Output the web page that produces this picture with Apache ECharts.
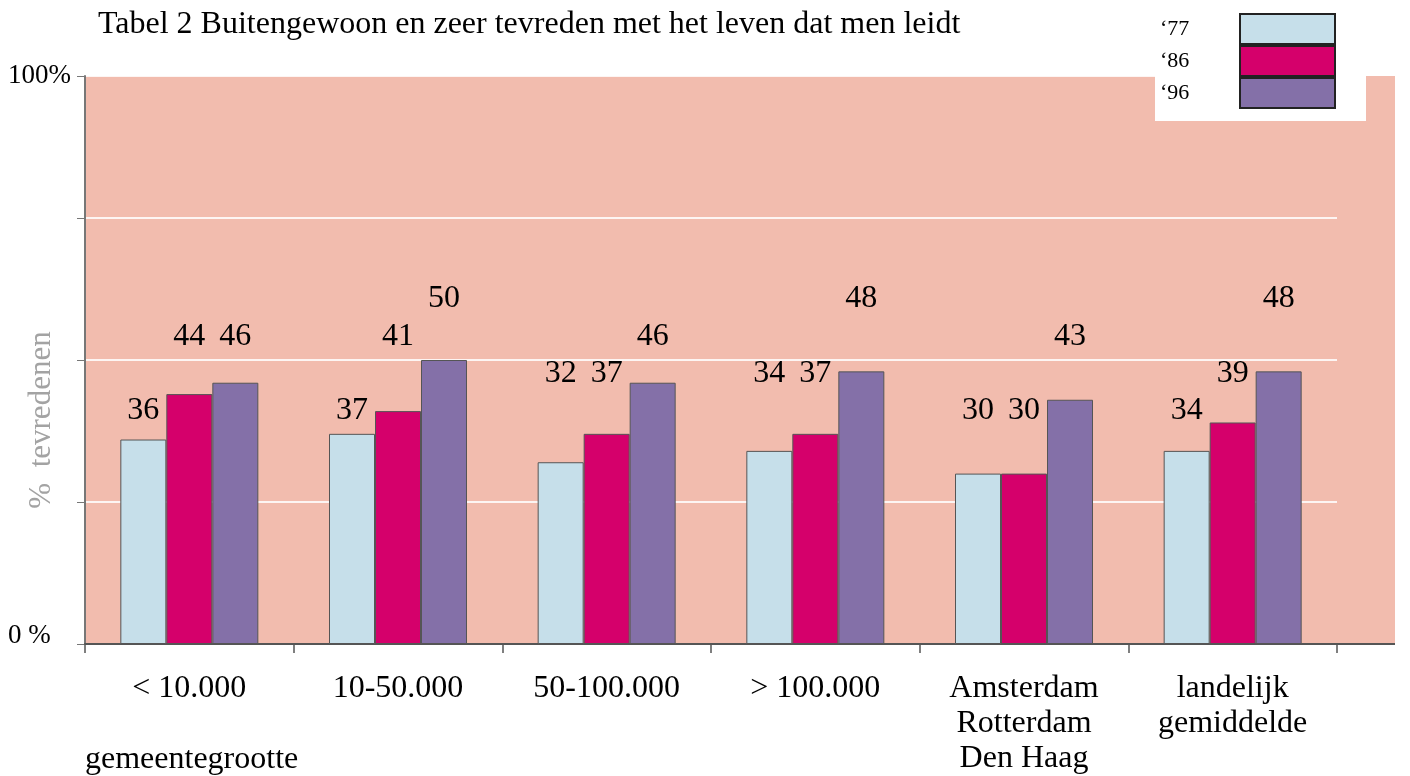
<!DOCTYPE html>
<html>
<head>
<meta charset="utf-8">
<script src="https://cdn.jsdelivr.net/npm/echarts@6/dist/echarts.min.js"></script>
<style>html,body{margin:0;padding:0;background:#fff;}#c{width:1410px;height:776px;}</style>
</head>
<body>
<div id="c"></div>
<script>
// ---- data ----
const categories = ['< 10.000', '10-50.000', '50-100.000', '> 100.000', 'Amsterdam\nRotterdam\nDen Haag', 'landelijk\ngemiddelde'];
const seriesNames = ['\u201877', '\u201886', '\u201896'];
const values77 = [36, 37, 32, 34, 30, 34];
const values86 = [44, 41, 37, 37, 30, 39];
const values96 = [46, 50, 46, 48, 43, 48];
const yTickLabels = { 0: '0 %', 100: '100%' };
const titleText = 'Tabel 2 Buitengewoon en zeer tevreden met het leven dat men leidt';
const yAxisTitle = '%  tevredenen';
const xAxisTitle = 'gemeentegrootte';

// ---- styles ----
const FONT = '"Liberation Serif", "Times New Roman", serif';
const colors = ['#c6dfea', '#d5006b', '#8470a8'];
const pink = '#f2bcae';
// vertical pixel centre of each value label (as placed in the original)
const labelLevels = [
  [411, 411, 374, 374, 411, 411],
  [337, 337, 374, 374, 411, 374],
  [337, 299, 337, 299, 337, 299]
];
const allValues = [values77, values86, values96];

const chart = echarts.init(document.getElementById('c'), null, { renderer: 'canvas' });

function buildSeries(dist) {
  return allValues.map((vals, s) => ({
    name: seriesNames[s],
    type: 'bar',
    barWidth: 46,
    barGap: '0%',
    data: vals.map((v, i) => ({
      value: v,
      label: { distance: dist ? dist[s][i] : 5 }
    })),
    itemStyle: { color: colors[s], borderColor: '#555', borderWidth: 1 },
    label: {
      show: true, position: 'top', fontFamily: FONT, fontSize: 32, color: '#000'
    }
  }));
}

const option = {
  animation: false,
  backgroundColor: '#fff',
  grid: { left: 85, top: 76, width: 1252, height: 569, show: true, backgroundColor: pink, borderWidth: 0 },
  xAxis: {
    type: 'category',
    data: categories,
    axisLine: { show: true, lineStyle: { color: '#555', width: 2 } },
    axisTick: { show: true, length: 9, lineStyle: { color: '#555', width: 1.5 } },
    axisLabel: { interval: 0, fontFamily: FONT, fontSize: 32, lineHeight: 35, color: '#000', margin: 27 },
    splitLine: { show: false }
  },
  yAxis: {
    type: 'value', min: 0, max: 100, interval: 25,
    axisLine: { show: true, lineStyle: { color: '#777', width: 2 } },
    axisTick: { show: true, length: 8, lineStyle: { color: '#777' } },
    axisLabel: {
      fontFamily: FONT, fontSize: 27, color: '#000', align: 'left', margin: 77,
      formatter: v => (v === 0 ? '{z|' + yTickLabels[0] + '}' : (yTickLabels[v] || '')),
      rich: { z: { fontFamily: FONT, fontSize: 27, color: '#000', padding: [0, 0, 16, 0] } }
    },
    splitLine: { show: true, lineStyle: { color: 'rgba(255,255,255,0.85)', width: 2 } }
  },
  legend: {
    orient: 'vertical', left: 1155, top: 0,
    itemWidth: 95, itemHeight: 30, itemGap: 0, align: 'right',
    padding: [13, 30, 12, 5], backgroundColor: '#fff',
    icon: 'rect',
    itemStyle: { borderColor: '#222', borderWidth: 2 },
    data: seriesNames,
    formatter: n => '{a|' + n + '}',
    textStyle: {
      fontFamily: FONT, fontSize: 22, color: '#000',
      rich: { a: { fontFamily: FONT, fontSize: 22, color: '#000', width: 75, align: 'left' } }
    }
  },
  graphic: [
    { type: 'rect', z: 0, shape: { x: 1337, y: 76, width: 58, height: 568 }, style: { fill: pink } },
    { type: 'line', z: 1, shape: { x1: 1336, y1: 644, x2: 1395, y2: 644 }, style: { stroke: '#555', lineWidth: 2 } },
    { type: 'text', x: 98, y: 25, style: { text: titleText, font: '32px ' + FONT, fill: '#000', textVerticalAlign: 'middle' } },
    { type: 'text', x: 85, y: 760, style: { text: xAxisTitle, font: '32px ' + FONT, fill: '#000', textVerticalAlign: 'middle' } },
    { type: 'text', x: 42, y: 420, rotation: Math.PI / 2, style: { text: yAxisTitle, font: '31px ' + FONT, fill: '#a3a3a3', textAlign: 'center', textVerticalAlign: 'middle' } }
  ],
  series: buildSeries(null)
};

chart.setOption(option);

// place value labels at their original heights
const dist = allValues.map((vals, s) => vals.map((v, i) => {
  const top = chart.convertToPixel({ xAxisIndex: 0, yAxisIndex: 0 }, [i, v])[1];
  return Math.max(0, top - labelLevels[s][i] - 16);
}));
chart.setOption({ series: buildSeries(dist) });
</script>
</body>
</html>
